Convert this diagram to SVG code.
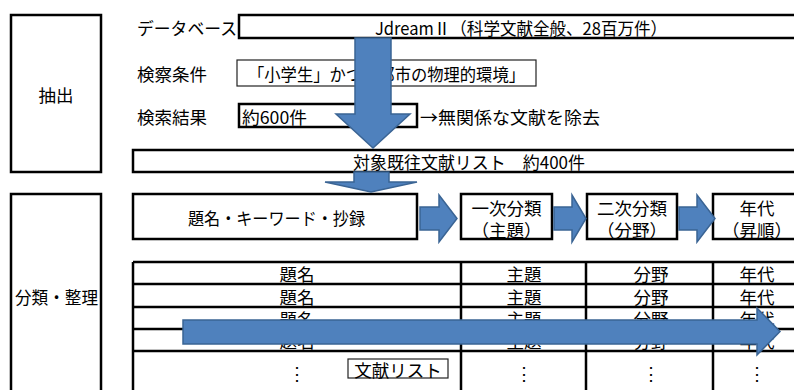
<svg xmlns="http://www.w3.org/2000/svg" width="794" height="390" viewBox="0 0 794 390">
<style>
text{font-family:"Noto Sans CJK JP","Noto Sans",sans-serif;font-size:17.5px;fill:#000;dominant-baseline:central}
.c{text-anchor:middle}
.b{fill:#fff;stroke:#000;stroke-width:2.5}
.t{fill:#fff;stroke:#222;stroke-width:1.2}
.ln{stroke:#000;stroke-width:2.5;fill:none}
.ar{fill:#4F81BD;stroke:#3A6494;stroke-width:1.5;stroke-linejoin:miter}
</style>
<rect width="794" height="390" fill="#fff"/>
<g id="phase-extract">
<rect class="b" x="11" y="15" width="90" height="157"/>
<text class="c" x="56" y="94">抽出</text>
</g>
<g id="phase-classify">
<rect class="b" x="11" y="194" width="90" height="205"/>
<text x="15" y="296" textLength="83" lengthAdjust="spacingAndGlyphs">分類・整理</text>
</g>
<g id="database">
<text x="137" y="27" textLength="100" lengthAdjust="spacingAndGlyphs">データベース</text>
<rect class="b" x="239" y="15" width="570" height="23"/>
<text x="375" y="27" textLength="292" lengthAdjust="spacingAndGlyphs">JdreamⅡ（科学文献全般、28百万件）</text>
</g>
<g id="search-condition">
<text x="137" y="73">検察条件</text>
<rect class="t" x="237" y="60" width="299" height="26"/>
<text x="248" y="73" textLength="277" lengthAdjust="spacingAndGlyphs">「小学生」かつ「都市の物理的環境」</text>
</g>
<g id="search-result">
<text x="137" y="116">検索結果</text>
<rect class="b" x="239" y="104" width="178" height="23"/>
<text x="242" y="116" textLength="65" lengthAdjust="spacingAndGlyphs">約600件</text>
<text x="420" y="116" textLength="180" lengthAdjust="spacingAndGlyphs">→無関係な文献を除去</text>
</g>
<g id="target-list">
<rect class="b" x="133" y="150" width="680" height="22"/>
<text x="353" y="161" textLength="232" lengthAdjust="spacingAndGlyphs">対象既往文献リスト　約400件</text>
</g>
<g id="title-keyword">
<rect class="b" x="133" y="194" width="284" height="45"/>
<text x="188" y="217" textLength="177" lengthAdjust="spacingAndGlyphs">題名・キーワード・抄録</text>
</g>
<g id="primary">
<rect class="b" x="461" y="194" width="91" height="45"/>
<text class="c" x="506.5" y="207">一次分類</text>
<text class="c" x="506.5" y="229">（主題）</text>
</g>
<g id="secondary">
<rect class="b" x="587" y="194" width="90" height="45"/>
<text class="c" x="632" y="207">二次分類</text>
<text class="c" x="632" y="229">（分野）</text>
</g>
<g id="year">
<rect class="b" x="713" y="194" width="100" height="45"/>
<text class="c" x="757" y="207">年代</text>
<text class="c" x="757" y="229">（昇順）</text>
</g>
<g id="table">
<rect x="133" y="262" width="700" height="140" fill="#fff"/>
<text class="c" x="297" y="273">題名</text>
<text class="c" x="297" y="296">題名</text>
<text class="c" x="297" y="318">題名</text>
<text class="c" x="297" y="340">題名</text>
<text class="c" x="524" y="273">主題</text>
<text class="c" x="524" y="296">主題</text>
<text class="c" x="524" y="318">主題</text>
<text class="c" x="524" y="340">主題</text>
<text class="c" x="651" y="273">分野</text>
<text class="c" x="651" y="296">分野</text>
<text class="c" x="651" y="318">分野</text>
<text class="c" x="651" y="340">分野</text>
<text class="c" x="757" y="273">年代</text>
<text class="c" x="757" y="296">年代</text>
<text class="c" x="757" y="318">年代</text>
<text class="c" x="757" y="340">年代</text>
<text class="c" x="297" y="372">⋮</text>
<text class="c" x="524" y="372">⋮</text>
<text class="c" x="651" y="372">⋮</text>
<text class="c" x="757" y="372">⋮</text>
<path class="ln" d="M133,262H800M133,284H800M133,307H800M133,329H800M133,351H800M133,262V395M461,262V395M586,262V395M713,262V395"/>
<rect class="t" x="348" y="359" width="100" height="19"/>
<text class="c" x="398" y="369">文献リスト</text>
</g>
<g id="connectors">
<path class="ar" d="M355,38H391V114H410L373,148L336,114H355Z"/>
<path class="ar" d="M354,172H389V182H417L371,192L325,182H354Z"/>
<path class="ar" d="M420,207H439V195L457,218.5L439,242V230H420Z"/>
<path class="ar" d="M554,207H572V195L586,218.5L572,242V230H554Z"/>
<path class="ar" d="M679,207H697V195L715,218.5L697,242V230H679Z"/>
<path class="ar" d="M183,320H757V308L780,331.5L757,355V344H183Z"/>
</g>
</svg>
